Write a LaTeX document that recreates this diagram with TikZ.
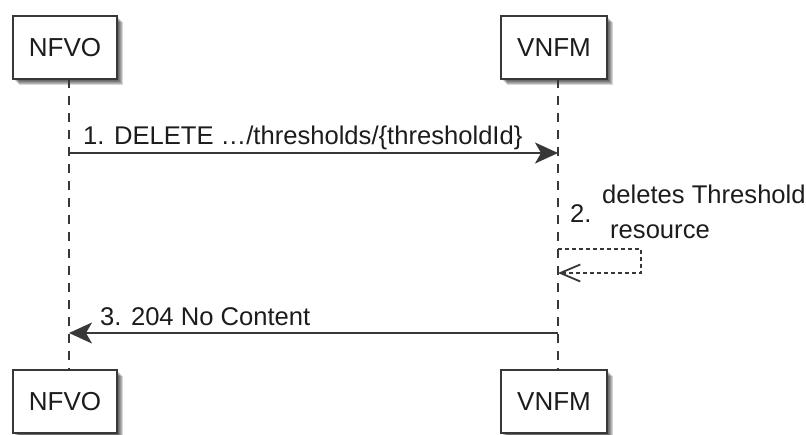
\documentclass[tikz,border=0pt]{standalone}
\usepackage{fontspec}
\setmainfont{Liberation Sans}
\usetikzlibrary{arrows.meta}
\definecolor{linec}{HTML}{383838}
\definecolor{txt}{HTML}{1C1C1C}
\tikzset{
  participant/.style={draw=linec, line width=1.6pt, fill=white, minimum width=104pt, minimum height=63pt, inner sep=0pt, font=\fontsize{26}{30}\selectfont, text=txt},
  shadowbox/.style={fill=black, draw=none, opacity=0.16},
  lifeline/.style={draw=linec, line width=1.3pt, dash pattern=on 9pt off 8pt},
  msg/.style={draw=linec, line width=1.6pt, -{Stealth[length=23pt,width=21pt,inset=6pt]}},
  selfmsg/.style={draw=linec, line width=1.4pt, dash pattern=on 4pt off 3pt, -{Straight Barb[length=20pt,width=17pt,line width=1.8pt]}},
  lbl/.style={font=\fontsize{25.6}{30}\selectfont, text=txt, inner sep=0pt, anchor=base west},
}
\begin{document}
\begin{tikzpicture}[x=1pt,y=-1pt]
\useasboundingbox (0,0) rectangle (806,434);
% shadows
\foreach \o in {2,3,4,5,6}{
  \fill[shadowbox] (13+\o,16+\o) rectangle (117+\o,79+\o);
  \fill[shadowbox] (501+\o,16+\o) rectangle (607+\o,79+\o);
  \fill[shadowbox] (13+\o,370+\o) rectangle (117+\o,433+\o);
  \fill[shadowbox] (501+\o,370+\o) rectangle (607+\o,433+\o);
}
% participants
\node[participant] (nfvoT) at (65,47.5) {NFVO};
\node[participant, minimum width=106pt] (vnfmT) at (554,47.5) {VNFM};
\node[participant] (nfvoB) at (65,401.5) {NFVO};
\node[participant, minimum width=106pt] (vnfmB) at (554,401.5) {VNFM};
% lifelines
\coordinate (nfvoL1) at (69,79);
\coordinate (nfvoL2) at (69,370);
\coordinate (vnfmL1) at (558,79);
\coordinate (vnfmL2) at (558,370);
\draw[lifeline] (nfvoL1) -- (nfvoL2);
\draw[lifeline] (vnfmL1) -- (vnfmL2);
% message 1
\coordinate (m1s) at (69,153);
\coordinate (m1e) at (558,153);
\draw[msg] (m1s) -- (m1e);
\node[lbl] (m1) at (83,144) {1. DELETE …/thresholds/\{thresholdId\}};
% message 2 (self)
\coordinate (m2s) at (558,249);
\coordinate (m2a) at (641,249);
\coordinate (m2b) at (641,273);
\coordinate (m2e) at (558,273);
\draw[selfmsg] (m2s) -- (m2a) -- (m2b) -- (m2e);
\node[lbl] (m2n) at (570,222) {2.};
\node[lbl] (m2t1) at (602,203) {deletes Threshold};
\node[lbl] (m2t2) at (610,238) {resource};
% message 3
\coordinate (m3s) at (558,333);
\coordinate (m3e) at (69,333);
\draw[msg] (m3s) -- (m3e);
\node[lbl] (m3) at (100,325) {3. 204 No Content};
\end{tikzpicture}
\end{document}
